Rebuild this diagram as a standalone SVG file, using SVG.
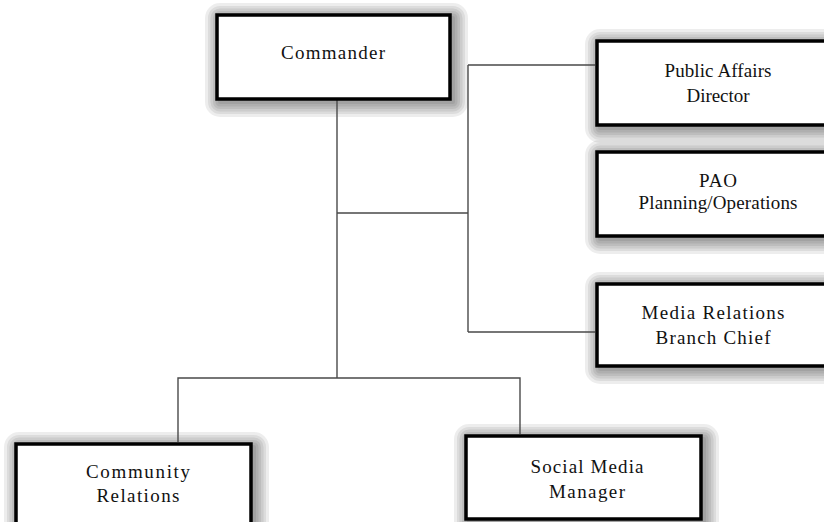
<svg xmlns="http://www.w3.org/2000/svg" xmlns:xlink="http://www.w3.org/1999/xlink" width="824" height="522" viewBox="0 0 824 522">
<style>
.box{fill:#fff;stroke:#000;stroke-width:3.5}
.sh{fill:none;stroke:#000;stroke-linejoin:round;stroke-opacity:0.07}
.s1{stroke-width:4}.s2{stroke-width:9}.s3{stroke-width:14}.s4{stroke-width:19}.s5{stroke-width:24}.s6{stroke-width:30}
.lbl{font-family:"Liberation Serif","Times New Roman",serif;font-size:19px;fill:#111;text-anchor:middle}
.con{stroke:#4a4a4a;stroke-width:1.4;fill:none}
</style>
<defs>
<rect id="r1" x="217" y="15" width="233" height="84"/>
<rect id="r2" x="597" y="41" width="240" height="84"/>
<rect id="r3" x="597" y="152" width="240" height="84"/>
<rect id="r4" x="597" y="284" width="240" height="82"/>
<rect id="r5" x="16" y="444" width="235" height="90"/>
<rect id="r6" x="466" y="436" width="235" height="83"/>
<g id="halo">
</g>
</defs>
<rect width="824" height="522" fill="#fff"/>
<g id="shadows" transform="translate(3 3)">
<use href="#r1" class="sh s1"/><use href="#r1" class="sh s2"/><use href="#r1" class="sh s3"/><use href="#r1" class="sh s4"/><use href="#r1" class="sh s5"/><use href="#r1" class="sh s6"/>
<use href="#r2" class="sh s1"/><use href="#r2" class="sh s2"/><use href="#r2" class="sh s3"/><use href="#r2" class="sh s4"/><use href="#r2" class="sh s5"/><use href="#r2" class="sh s6"/>
<use href="#r3" class="sh s1"/><use href="#r3" class="sh s2"/><use href="#r3" class="sh s3"/><use href="#r3" class="sh s4"/><use href="#r3" class="sh s5"/><use href="#r3" class="sh s6"/>
<use href="#r4" class="sh s1"/><use href="#r4" class="sh s2"/><use href="#r4" class="sh s3"/><use href="#r4" class="sh s4"/><use href="#r4" class="sh s5"/><use href="#r4" class="sh s6"/>
<use href="#r5" class="sh s1"/><use href="#r5" class="sh s2"/><use href="#r5" class="sh s3"/><use href="#r5" class="sh s4"/><use href="#r5" class="sh s5"/><use href="#r5" class="sh s6"/>
<use href="#r6" class="sh s1"/><use href="#r6" class="sh s2"/><use href="#r6" class="sh s3"/><use href="#r6" class="sh s4"/><use href="#r6" class="sh s5"/><use href="#r6" class="sh s6"/>
</g>
<g id="connectors">
<path class="con" d="M337 100V378M337 213H468M468 65V332M468 65H595M468 332H595M178 442V378H520V434"/>
</g>
<g id="commander">
<use href="#r1" class="box"/>
<text class="lbl" x="333" y="59" textLength="104" lengthAdjust="spacing">Commander</text>
</g>
<g id="public-affairs-director">
<use href="#r2" class="box"/>
<text class="lbl" x="718" y="77" textLength="107" lengthAdjust="spacing">Public Affairs</text>
<text class="lbl" x="718" y="102" textLength="63" lengthAdjust="spacing">Director</text>
</g>
<g id="pao-planning">
<use href="#r3" class="box"/>
<text class="lbl" x="718" y="187" textLength="38" lengthAdjust="spacing">PAO</text>
<text class="lbl" x="718" y="209" textLength="159" lengthAdjust="spacing">Planning/Operations</text>
</g>
<g id="media-relations">
<use href="#r4" class="box"/>
<text class="lbl" x="713" y="319" textLength="143" lengthAdjust="spacing">Media Relations</text>
<text class="lbl" x="713" y="344" textLength="115" lengthAdjust="spacing">Branch Chief</text>
</g>
<g id="community-relations">
<use href="#r5" class="box"/>
<text class="lbl" x="138" y="478" textLength="104" lengthAdjust="spacing">Community</text>
<text class="lbl" x="138" y="502" textLength="83" lengthAdjust="spacing">Relations</text>
</g>
<g id="social-media-manager">
<use href="#r6" class="box"/>
<text class="lbl" x="587" y="473" textLength="113" lengthAdjust="spacing">Social Media</text>
<text class="lbl" x="587" y="498" textLength="76" lengthAdjust="spacing">Manager</text>
</g>
</svg>
